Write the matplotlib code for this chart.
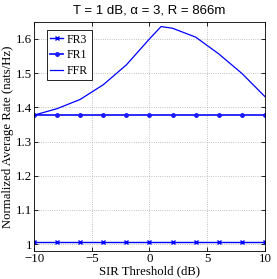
import matplotlib
matplotlib.use("Agg")
import matplotlib.pyplot as plt

sir_db = [-10, -8, -6, -4, -2, 0, 2, 4, 6, 8, 10]
fr3 = [1.007] * len(sir_db)
fr1 = [1.377] * len(sir_db)

ffr_x = [-10, -8, -6, -4, -2, 0, 1, 2, 4, 6, 8, 10]
ffr = [1.377, 1.396, 1.423, 1.466, 1.524, 1.600, 1.636, 1.631, 1.605, 1.556, 1.499, 1.431]

serif = ["Liberation Serif", "DejaVu Serif"]

fig = plt.figure(figsize=(2.77, 2.79), dpi=100)
ax = fig.add_axes([0.1227, 0.1004, 0.834, 0.8216])

ax.plot(sir_db, fr3, color="#0000ff", lw=1.0, marker="x", ms=3.5, mew=1.0, label="FR3")
ax.plot(sir_db, fr1, color="#1a1aff", lw=1.3, marker=".", ms=5, label="FR1")
ax.plot(ffr_x, ffr, color="#0000ff", lw=0.9, label="FFR")

ax.set_xlim(-10, 10)
ax.set_ylim(0.98, 1.65)
ax.set_xticks([-10, -5, 0, 5, 10])
ax.set_yticks([1.0, 1.1, 1.2, 1.3, 1.4, 1.5, 1.6])
ax.set_yticklabels(["1", "1.1", "1.2", "1.3", "1.4", "1.5", "1.6"])
ax.grid(True, linestyle=":", color="#b0b0b0", lw=0.6)
ax.tick_params(direction="in", top=True, right=True, length=3, width=0.6, labelsize=9.3, pad=1.5)
for lab in ax.get_xticklabels() + ax.get_yticklabels():
    lab.set_family(serif)
for sp in ax.spines.values():
    sp.set_linewidth(0.6)

ax.set_xlabel("SIR Threshold (dB)", family=serif, fontsize=9.2, labelpad=0)
ax.set_ylabel("Normalized Average Rate (nats/Hz)", family=serif, fontsize=9.2, labelpad=1)
ax.set_title("T = 1 dB, α = 3, R = 866m", family=["Liberation Sans", "DejaVu Sans"],
             fontsize=9.5, pad=6)

leg = ax.legend(loc="upper left", prop={"family": serif, "size": 8.5}, handlelength=1.1,
                handletextpad=0.3, borderpad=0.3, labelspacing=0.3, fancybox=False,
                framealpha=1, edgecolor="black", borderaxespad=0.7,
                bbox_to_anchor=(0.02, 1.0))
leg.get_frame().set_linewidth(0.6)

fig.savefig("out.png", dpi=100)
